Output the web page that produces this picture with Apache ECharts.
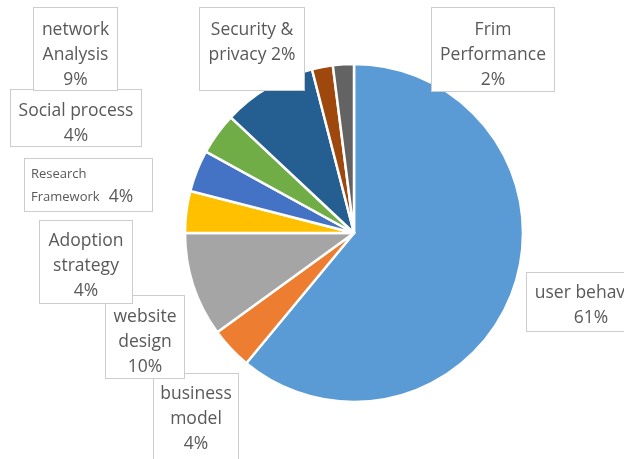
<!DOCTYPE html>
<html><head><meta charset="utf-8">
<script src="https://cdn.jsdelivr.net/npm/echarts@6/dist/echarts.min.js"></script>
<style>html,body{margin:0;padding:0;background:#fff}#c{width:624px;height:459px}</style>
</head><body><div id="c"></div>
<script>
// Data (clockwise from 12 o'clock)
const categories = ['user behavior', 'business model', 'website design', 'Adoption strategy', 'Research Framework', 'Social process', 'network Analysis', 'Security & privacy', 'Frim Performance'];
const values = [61, 4, 10, 4, 4, 4, 9, 2, 2];
const colors = ['#5B9BD5', '#ED7D31', '#A5A5A5', '#FFC000', '#4472C4', '#70AD47', '#255E91', '#9E480E', '#636363'];

// Label text line breaks (how each label is split)
const labelLines = [
  ['user behavior', '{v}'],
  ['business', 'model', '{v}'],
  ['website', 'design', '{v}'],
  ['Adoption', 'strategy', '{v}'],
  ['{s|Research}', '{s|Framework}  {v}'],
  ['Social process', '{v}'],
  ['network', 'Analysis', '{v}'],
  ['Security &', 'privacy {v}'],
  ['Frim', 'Performance', '{v}']
];
// Label boxes: left, top, width, height (layout only)
const boxes = [
  [526, 273, 130, 60],
  [153, 374, 86, 90],
  [105, 296, 80, 84],
  [39, 221, 94, 84],
  [25, 159, 129, 54],
  [10, 90, 132, 58],
  [33, 8, 85, 84],
  [199, 8, 106, 84],
  [431, 8, 124, 85]
];
const boxAlign = ['center','center','center','center','left','center','center','center','center'];
const padTop = [8, 8, 9, 8, 4, 9, 10, 10, 10];

const data = categories.map((name, i) => ({
  name: name,
  value: values[i],
  itemStyle: { color: colors[i] },
  label: {
    width: boxes[i][2] - 2 - 12,
    height: boxes[i][3] - 2 - padTop[i],
    align: boxAlign[i],
    padding: [padTop[i], 6, 0, 6]
  }
}));

const chart = echarts.init(document.getElementById('c'), null, { renderer: 'canvas' });
chart.setOption({
  animation: false,
  backgroundColor: '#fff',
  series: [{
    type: 'pie',
    center: [354, 233],
    radius: [0, 169],
    startAngle: 90,
    clockwise: true,
    avoidLabelOverlap: false,
    data: data,
    itemStyle: { borderColor: '#fff', borderWidth: 2.5 },
    labelLine: { show: false },
    label: {
      show: true,
      position: 'outside',
      formatter: p => labelLines[p.dataIndex].map(l => l.replace('{v}', '{n|' + p.value + '%}')).join('\n'),
      fontFamily: 'Open Sans',
      fontSize: 17.5,
      lineHeight: 25,
      color: '#595959',
      backgroundColor: '#fff',
      borderColor: '#CCCCCC',
      borderWidth: 1,
      verticalAlign: 'top',
      rich: {
        n: { fontFamily: 'Open Sans', fontSize: 17.5, lineHeight: 25, color: '#595959' },
        s: { fontFamily: 'Open Sans', fontSize: 13, lineHeight: 22, color: '#595959' }
      }
    },
    labelLayout: function (params) {
      const i = params.dataIndex;
      const b = boxes[i];
      const x = boxAlign[i] === 'left' ? b[0] : b[0] + b[2] / 2;
      return { x: x, y: b[1], align: boxAlign[i], verticalAlign: 'top', hideOverlap: false };
    }
  }]
});
</script></body></html>
